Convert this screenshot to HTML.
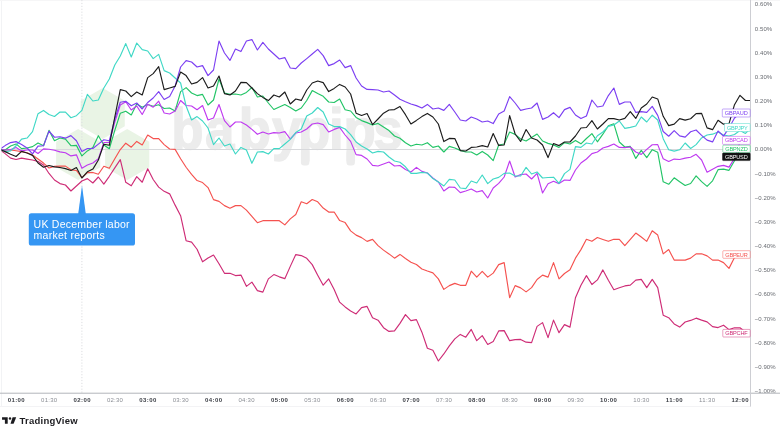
<!DOCTYPE html>
<html lang="en"><head><meta charset="utf-8"><title>GBP pairs overlay chart</title>
<style>html,body{margin:0;padding:0;background:#fff;}body{width:780px;height:427px;overflow:hidden;}</style>
</head><body>
<svg width="780" height="427" viewBox="0 0 780 427" style="display:block" font-family="'Liberation Sans', sans-serif">
<defs><clipPath id="yclip"><rect x="751" y="0" width="29" height="392.7"/></clipPath><clipPath id="plot"><rect x="1.5" y="0" width="749" height="393"/></clipPath></defs>
<rect width="780" height="427" fill="#ffffff"/>
<rect x="1" y="0" width="1" height="406" fill="#f2f3f5"/>
<rect x="0" y="0" width="780" height="1" fill="#f6f6f7"/>
<rect x="0" y="406" width="751" height="1" fill="#f3f3f5"/>
<g>
<polygon points="102.70,88.00 124.78,100.75 124.78,126.25 102.70,139.00 80.62,126.25 80.62,100.75" fill="#e9f4e5"/>
<polygon points="78.20,129.00 100.28,141.75 100.28,167.25 78.20,180.00 56.12,167.25 56.12,141.75" fill="#e9f4e5"/>
<polygon points="127.20,129.00 149.28,141.75 149.28,167.25 127.20,180.00 105.12,167.25 105.12,141.75" fill="#e9f4e5"/>
<text transform="translate(0,149.3) scale(0.91,1)" x="188.09 225.25 262.49 298.99 327.43 361.67 377.54 410.26" y="0" font-size="58" font-weight="bold" fill="#ececec" stroke="#ececec" stroke-width="1.4" stroke-linejoin="round">babypips</text>
<rect x="300.91" y="150" width="8.4" height="15.6" rx="3" fill="#ececec"/>
<rect x="346.50" y="150" width="8.4" height="15.6" rx="3" fill="#ececec"/>
</g>
<line x1="2" y1="149.5" x2="750" y2="149.5" stroke="#d8d9dc" stroke-width="1"/>
<line x1="81.9" y1="0" x2="81.9" y2="393" stroke="#dcdde0" stroke-width="1" stroke-dasharray="1.2 1.7"/>
<g clip-path="url(#plot)">
<polyline points="-0.36,149.45 5.12,153.63 10.61,158.17 16.09,159.53 21.58,158.17 27.06,159.08 32.54,160.00 38.03,161.53 43.51,165.00 49.00,173.47 54.48,180.00 59.96,183.60 65.45,185.00 70.93,191.00 76.42,186.00 81.90,181.00 87.38,178.60 92.87,183.00 98.35,177.00 103.84,184.12 109.32,176.31 114.80,167.82 120.29,159.64 125.77,182.34 131.26,185.79 136.74,176.64 142.22,182.24 147.71,168.80 153.19,179.52 158.68,187.09 164.16,191.35 169.64,193.86 175.13,205.14 180.61,215.66 186.10,240.73 191.58,242.12 197.06,249.26 202.55,261.80 208.03,258.05 213.52,255.04 219.00,263.81 224.48,273.33 229.97,273.33 235.45,275.59 240.94,275.09 246.42,286.37 251.90,282.11 257.39,290.63 262.87,292.13 268.36,278.85 273.84,274.59 279.32,276.84 284.81,278.66 290.29,266.38 295.78,254.60 301.26,255.60 306.74,258.36 312.23,264.62 317.71,275.15 323.20,285.18 328.68,278.91 334.16,289.44 339.65,302.16 345.13,306.92 350.62,310.93 356.10,313.93 361.58,307.67 367.07,306.42 372.55,317.69 378.04,320.16 383.52,327.68 389.00,331.40 394.49,330.90 399.97,323.38 405.46,314.61 410.94,320.63 416.42,319.62 421.91,332.16 427.39,348.20 432.88,350.20 438.36,360.98 443.84,353.96 449.33,345.94 454.81,338.92 460.30,334.41 465.78,337.17 471.26,329.40 476.75,340.68 482.23,335.66 487.72,344.44 493.20,341.43 498.68,330.90 504.17,330.65 509.65,340.68 515.14,339.67 520.62,339.42 526.10,342.18 531.59,342.68 537.07,326.39 542.56,322.63 548.04,337.67 553.52,320.13 559.01,332.66 564.49,324.64 569.98,327.14 575.46,297.74 580.94,285.21 586.43,275.66 591.91,284.56 597.40,279.92 602.88,269.90 608.36,280.18 613.85,289.70 619.33,287.69 624.82,285.94 630.30,285.19 635.78,280.18 641.27,279.42 646.75,287.69 652.24,279.40 657.72,287.67 663.20,315.15 668.69,317.66 674.17,323.92 679.66,327.09 685.14,322.04 690.62,320.41 696.11,318.16 701.59,320.16 707.08,321.92 712.56,326.68 718.04,327.59 723.53,325.18 729.01,329.60 734.50,327.80 739.98,327.80 745.46,332.00 750.95,333.20" fill="none" stroke="#CE2C76" stroke-width="1.15" stroke-linejoin="round" stroke-linecap="round"/>
<polyline points="-0.36,149.45 5.12,150.00 10.61,150.00 16.09,150.72 21.58,151.63 27.06,152.80 32.54,155.00 38.03,159.08 43.51,163.08 49.00,168.00 54.48,166.37 59.96,166.12 65.45,166.12 70.93,169.83 76.42,170.47 81.90,177.55 87.38,172.55 92.87,172.55 98.35,174.28 103.84,166.24 109.32,168.31 114.80,158.78 120.29,149.53 125.77,143.18 131.26,147.20 136.74,141.40 142.22,145.00 147.71,135.00 153.19,138.60 158.68,138.60 164.16,144.60 169.64,149.00 175.13,149.40 180.61,158.69 186.10,167.27 191.58,174.28 197.06,180.58 202.55,182.58 208.03,187.59 213.52,199.62 219.00,201.38 224.48,205.64 229.97,208.15 235.45,205.64 240.94,205.64 246.42,210.15 251.90,216.42 257.39,222.68 262.87,220.68 268.36,220.68 273.84,220.68 279.32,220.68 284.81,224.89 290.29,218.87 295.78,214.49 301.26,201.78 306.74,203.78 312.23,199.52 317.71,201.78 323.20,208.05 328.68,212.06 334.16,212.06 339.65,220.58 345.13,222.58 350.62,230.85 356.10,235.11 361.58,237.62 367.07,241.38 372.55,239.37 378.04,245.64 383.52,250.15 389.00,253.91 394.49,258.17 399.97,254.41 405.46,258.42 410.94,262.18 416.42,264.44 421.91,268.95 427.39,270.98 432.88,272.86 438.36,278.87 443.84,289.40 449.33,285.64 454.81,283.38 460.30,285.33 465.78,285.33 471.26,271.21 476.75,277.14 482.23,271.34 487.72,277.11 493.20,273.10 498.68,264.66 504.17,262.66 509.65,297.66 515.14,285.63 520.62,287.88 526.10,291.89 531.59,287.63 537.07,279.49 542.56,275.10 548.04,277.11 553.52,262.66 559.01,278.86 564.49,273.47 569.98,269.84 575.46,258.15 580.94,249.62 586.43,239.32 591.91,241.33 597.40,237.57 602.88,239.45 608.36,241.33 613.85,239.32 619.33,239.32 624.82,245.59 630.30,239.32 635.78,233.06 641.27,237.07 646.75,241.33 652.24,230.78 657.72,235.04 663.20,253.83 668.69,249.57 674.17,260.10 679.66,260.10 685.14,260.10 690.62,258.10 696.11,253.83 701.59,253.83 707.08,255.84 712.56,260.10 718.04,260.10 723.53,262.61 729.01,268.37 734.50,257.59 739.98,254.50 745.46,254.50 750.95,254.50" fill="none" stroke="#F5524F" stroke-width="1.15" stroke-linejoin="round" stroke-linecap="round"/>
<polyline points="-0.36,149.45 5.12,150.00 10.61,145.92 16.09,143.92 21.58,148.63 27.06,148.00 32.54,146.63 38.03,143.00 43.51,145.72 49.00,130.37 54.48,140.72 59.96,138.00 65.45,139.08 70.93,145.72 76.42,145.37 81.90,155.92 87.38,150.92 92.87,147.55 98.35,135.72 103.84,145.00 109.32,148.76 114.80,130.33 120.29,113.24 125.77,111.20 131.26,115.00 136.74,104.00 142.22,107.20 147.71,104.50 153.19,106.30 158.68,104.80 164.16,108.50 169.64,108.00 175.13,111.00 180.61,91.60 186.10,87.60 191.58,93.00 197.06,95.60 202.55,94.40 208.03,105.00 213.52,100.00 219.00,79.00 224.48,93.00 229.97,94.40 235.45,94.00 240.94,95.00 246.42,92.40 251.90,87.50 257.39,97.00 262.87,96.00 268.36,103.00 273.84,109.50 279.32,107.00 284.81,104.50 290.29,107.50 295.78,111.00 301.26,108.00 306.74,100.50 312.23,90.60 317.71,93.60 323.20,96.30 328.68,102.00 334.16,102.50 339.65,99.00 345.13,109.70 350.62,111.00 356.10,117.40 361.58,120.60 367.07,122.60 372.55,125.00 378.04,123.40 383.52,127.00 389.00,130.60 394.49,136.00 399.97,138.20 405.46,142.80 410.94,146.00 416.42,144.20 421.91,145.00 427.39,142.70 432.88,147.40 438.36,146.00 443.84,152.00 449.33,146.40 454.81,148.00 460.30,150.40 465.78,152.00 471.26,152.00 476.75,155.00 482.23,151.40 487.72,155.00 493.20,160.60 498.68,145.00 504.17,144.00 509.65,132.00 515.14,134.40 520.62,139.00 526.10,141.00 531.59,137.60 537.07,134.00 542.56,141.00 548.04,143.35 553.52,144.87 559.01,147.40 564.49,142.60 569.98,144.00 575.46,140.40 580.94,143.80 586.43,138.50 591.91,133.60 597.40,141.80 602.88,134.20 608.36,125.80 613.85,123.80 619.33,142.00 624.82,147.00 630.30,146.40 635.78,158.40 641.27,150.40 646.75,157.60 652.24,149.70 657.72,152.25 663.20,181.83 668.69,184.28 674.17,177.80 679.66,181.83 685.14,185.47 690.62,183.47 696.11,175.88 701.59,181.67 707.08,186.33 712.56,180.83 718.04,169.67 723.53,169.17 729.01,170.33 734.50,160.83 739.98,149.00 745.46,148.80 750.95,148.80" fill="none" stroke="#22C466" stroke-width="1.15" stroke-linejoin="round" stroke-linecap="round"/>
<polyline points="-0.36,149.45 5.12,150.00 10.61,149.63 16.09,147.55 21.58,150.92 27.06,150.00 32.54,150.00 38.03,153.47 43.51,148.83 49.00,149.28 54.48,150.20 59.96,151.83 65.45,152.75 70.93,155.92 76.42,154.83 81.90,168.20 87.38,165.00 92.87,163.00 98.35,158.83 103.84,142.51 109.32,142.50 114.80,122.11 120.29,105.00 125.77,101.80 131.26,110.00 136.74,106.00 142.22,114.50 147.71,104.30 153.19,107.20 158.68,101.20 164.16,113.00 169.64,114.00 175.13,111.00 180.61,100.50 186.10,105.50 191.58,106.00 197.06,109.70 202.55,105.50 208.03,120.00 213.52,118.00 219.00,104.50 224.48,120.60 229.97,127.00 235.45,122.00 240.94,122.00 246.42,125.00 251.90,129.40 257.39,134.30 262.87,132.00 268.36,134.00 273.84,132.60 279.32,133.00 284.81,131.60 290.29,139.00 295.78,133.00 301.26,132.00 306.74,129.00 312.23,124.00 317.71,123.00 323.20,124.60 328.68,132.00 334.16,129.40 339.65,127.40 345.13,135.00 350.62,141.40 356.10,154.60 361.58,155.40 367.07,159.00 372.55,165.40 378.04,166.00 383.52,164.00 389.00,162.00 394.49,166.00 399.97,165.50 405.46,169.50 410.94,172.00 416.42,167.40 421.91,171.40 427.39,173.00 432.88,178.00 438.36,182.00 443.84,191.00 449.33,187.00 454.81,187.40 460.30,192.60 465.78,191.00 471.26,189.00 476.75,192.00 482.23,190.60 487.72,198.00 493.20,188.00 498.68,183.40 504.17,177.00 509.65,161.00 515.14,177.00 520.62,174.60 526.10,174.00 531.59,179.00 537.07,173.40 542.56,193.00 548.04,183.70 553.52,181.30 559.01,183.60 564.49,180.00 569.98,180.40 575.46,170.00 580.94,163.00 586.43,159.00 591.91,153.60 597.40,152.00 602.88,148.00 608.36,146.40 613.85,144.00 619.33,147.40 624.82,147.60 630.30,147.00 635.78,152.00 641.27,154.40 646.75,149.40 652.24,144.80 657.72,144.63 663.20,158.72 668.69,161.47 674.17,159.08 679.66,159.53 685.14,158.17 690.62,157.25 696.11,154.33 701.59,160.00 707.08,172.17 712.56,169.17 718.04,166.33 723.53,165.33 729.01,167.17 734.50,158.33 739.98,142.00 745.46,140.40 750.95,140.40" fill="none" stroke="#BF3AF0" stroke-width="1.15" stroke-linejoin="round" stroke-linecap="round"/>
<polyline points="-0.36,149.45 5.12,151.63 10.61,150.92 16.09,145.72 21.58,139.08 27.06,138.00 32.54,131.63 38.03,113.67 43.51,110.45 49.00,114.58 54.48,116.50 59.96,112.05 65.45,112.05 70.93,117.75 76.42,115.67 81.90,110.42 87.38,94.40 92.87,101.00 98.35,100.00 103.84,88.00 109.32,79.00 114.80,65.00 120.29,56.00 125.77,43.60 131.26,57.00 136.74,43.00 142.22,49.60 147.71,51.00 153.19,58.60 158.68,54.40 164.16,70.60 169.64,73.00 175.13,78.00 180.61,83.00 186.10,106.00 191.58,120.00 197.06,116.60 202.55,121.00 208.03,128.00 213.52,144.60 219.00,138.00 224.48,146.00 229.97,144.00 235.45,154.00 240.94,147.40 246.42,150.00 251.90,163.30 257.39,152.00 262.87,151.60 268.36,154.00 273.84,148.60 279.32,148.60 284.81,144.00 290.29,139.40 295.78,132.60 301.26,129.00 306.74,116.00 312.23,113.00 317.71,107.50 323.20,112.00 328.68,124.00 334.16,126.60 339.65,126.60 345.13,129.00 350.62,134.60 356.10,142.00 361.58,146.00 367.07,149.00 372.55,153.00 378.04,151.40 383.52,152.00 389.00,157.00 394.49,161.00 399.97,162.30 405.46,166.80 410.94,173.40 416.42,173.40 421.91,172.40 427.39,173.00 432.88,178.60 438.36,182.00 443.84,186.00 449.33,179.40 454.81,180.00 460.30,188.00 465.78,188.60 471.26,181.00 476.75,183.00 482.23,175.00 487.72,183.60 493.20,179.00 498.68,177.40 504.17,173.40 509.65,173.00 515.14,176.00 520.62,176.00 526.10,167.40 531.59,174.00 537.07,172.00 542.56,178.00 548.04,177.50 553.52,177.20 559.01,183.40 564.49,173.60 569.98,169.40 575.46,146.60 580.94,147.40 586.43,143.00 591.91,144.00 597.40,135.80 602.88,132.00 608.36,126.40 613.85,125.00 619.33,121.00 624.82,128.40 630.30,127.40 635.78,126.00 641.27,117.00 646.75,122.00 652.24,115.20 657.72,120.00 663.20,138.67 668.69,149.80 674.17,151.17 679.66,149.80 685.14,143.00 690.62,148.47 696.11,144.63 701.59,137.92 707.08,135.00 712.56,134.17 718.04,132.00 723.53,135.00 729.01,136.00 734.50,134.50 739.98,130.50 745.46,133.40 750.95,128.00" fill="none" stroke="#40D8C6" stroke-width="1.15" stroke-linejoin="round" stroke-linecap="round"/>
<polyline points="-0.36,149.45 5.12,145.60 10.61,142.60 16.09,141.63 21.58,144.40 27.06,148.00 32.54,153.88 38.03,146.17 43.51,145.72 49.00,131.17 54.48,137.25 59.96,136.80 65.45,138.17 70.93,135.62 76.42,140.72 81.90,151.53 87.38,148.53 92.87,148.53 98.35,144.08 103.84,139.76 109.32,140.77 114.80,119.00 120.29,102.30 125.77,101.20 131.26,105.80 136.74,103.00 142.22,109.00 147.71,102.50 153.19,98.00 158.68,91.60 164.16,99.50 169.64,96.60 175.13,86.00 180.61,67.00 186.10,60.60 191.58,62.00 197.06,67.00 202.55,65.60 208.03,75.60 213.52,70.00 219.00,41.00 224.48,53.00 229.97,60.40 235.45,49.00 240.94,51.60 246.42,41.00 251.90,39.60 257.39,50.00 262.87,42.40 268.36,49.00 273.84,54.00 279.32,59.00 284.81,57.60 290.29,68.00 295.78,68.60 301.26,63.00 306.74,58.60 312.23,54.00 317.71,49.40 323.20,55.60 328.68,65.60 334.16,63.60 339.65,60.00 345.13,67.60 350.62,65.60 356.10,78.00 361.58,86.00 367.07,89.40 372.55,89.60 378.04,90.00 383.52,92.00 389.00,91.00 394.49,95.00 399.97,99.20 405.46,101.80 410.94,104.00 416.42,105.60 421.91,108.00 427.39,104.40 432.88,109.00 438.36,108.00 443.84,110.40 449.33,104.40 454.81,112.00 460.30,120.00 465.78,121.00 471.26,117.00 476.75,119.00 482.23,122.00 487.72,121.00 493.20,123.60 498.68,114.00 504.17,111.00 509.65,96.60 515.14,103.00 520.62,110.40 526.10,109.00 531.59,108.00 537.07,103.00 542.56,119.40 548.04,117.00 553.52,112.70 559.01,117.60 564.49,109.60 569.98,107.40 575.46,115.00 580.94,118.60 586.43,116.00 591.91,100.00 597.40,107.00 602.88,106.00 608.36,95.60 613.85,88.00 619.33,104.40 624.82,102.00 630.30,102.00 635.78,112.40 641.27,111.60 646.75,112.40 652.24,106.37 657.72,115.33 663.20,131.50 668.69,136.25 674.17,130.62 679.66,135.83 685.14,137.08 690.62,131.72 696.11,130.00 701.59,135.33 707.08,140.17 712.56,141.92 718.04,131.00 723.53,136.08 729.01,127.92 734.50,118.00 739.98,113.00 745.46,113.00 750.95,113.00" fill="none" stroke="#7C3FF2" stroke-width="1.15" stroke-linejoin="round" stroke-linecap="round"/>
<polyline points="-0.36,149.45 5.12,151.63 10.61,154.28 16.09,156.47 21.58,151.37 27.06,153.00 32.54,155.37 38.03,163.00 43.51,167.20 49.00,165.47 54.48,166.83 59.96,167.55 65.45,168.63 70.93,170.47 76.42,167.55 81.90,178.00 87.38,171.83 92.87,169.08 98.35,160.00 103.84,144.19 109.32,145.31 114.80,117.00 120.29,89.60 125.77,91.00 131.26,96.60 136.74,92.00 142.22,95.00 147.71,77.60 153.19,73.60 158.68,66.60 164.16,89.60 169.64,88.00 175.13,86.40 180.61,72.00 186.10,75.60 191.58,84.00 197.06,82.40 202.55,77.60 208.03,88.00 213.52,86.00 219.00,76.00 224.48,93.60 229.97,95.00 235.45,91.00 240.94,82.40 246.42,82.60 251.90,88.00 257.39,93.60 262.87,97.40 268.36,100.60 273.84,95.00 279.32,97.00 284.81,92.00 290.29,104.00 295.78,99.00 301.26,100.40 306.74,90.00 312.23,83.00 317.71,81.00 323.20,82.60 328.68,91.60 334.16,88.40 339.65,84.40 345.13,87.00 350.62,94.00 356.10,113.20 361.58,115.50 367.07,113.50 372.55,124.60 378.04,119.00 383.52,113.20 389.00,110.00 394.49,109.60 399.97,106.47 405.46,114.67 410.94,124.00 416.42,120.40 421.91,116.60 427.39,113.40 432.88,117.00 438.36,124.00 443.84,141.60 449.33,138.40 454.81,138.60 460.30,150.60 465.78,151.00 471.26,147.40 476.75,147.00 482.23,145.60 487.72,147.00 493.20,133.50 498.68,145.40 504.17,145.00 509.65,115.60 515.14,134.00 520.62,141.50 526.10,129.50 531.59,138.00 537.07,140.00 542.56,145.00 548.04,157.60 553.52,143.47 559.01,145.60 564.49,142.00 569.98,142.00 575.46,136.00 580.94,128.00 586.43,127.50 591.91,120.60 597.40,129.00 602.88,124.00 608.36,118.60 613.85,118.60 619.33,120.00 624.82,118.40 630.30,111.60 635.78,118.40 641.27,108.00 646.75,104.00 652.24,97.00 657.72,98.92 663.20,116.33 668.69,125.62 674.17,124.08 679.66,118.63 685.14,120.17 690.62,118.72 696.11,113.63 701.59,113.33 707.08,127.83 712.56,129.67 718.04,120.33 723.53,124.17 729.01,123.67 734.50,104.67 739.98,95.33 745.46,100.50 750.95,100.50" fill="none" stroke="#1c1c1c" stroke-width="1.15" stroke-linejoin="round" stroke-linecap="round"/>
</g>
<rect x="0" y="392.7" width="780" height="1" fill="#b3b5bb"/>
<rect x="750" y="0" width="1" height="406.5" fill="#cdced3"/>
<text x="754.8" y="393.10" font-size="6" fill="#676a70" textLength="20.8" lengthAdjust="spacing" clip-path="url(#yclip)">−1.00%</text>
<text x="754.8" y="368.93" font-size="6" fill="#676a70" textLength="20.8" lengthAdjust="spacing" clip-path="url(#yclip)">−0.90%</text>
<text x="754.8" y="344.76" font-size="6" fill="#676a70" textLength="20.8" lengthAdjust="spacing" clip-path="url(#yclip)">−0.80%</text>
<text x="754.8" y="320.59" font-size="6" fill="#676a70" textLength="20.8" lengthAdjust="spacing" clip-path="url(#yclip)">−0.70%</text>
<text x="754.8" y="296.42" font-size="6" fill="#676a70" textLength="20.8" lengthAdjust="spacing" clip-path="url(#yclip)">−0.60%</text>
<text x="754.8" y="272.25" font-size="6" fill="#676a70" textLength="20.8" lengthAdjust="spacing" clip-path="url(#yclip)">−0.50%</text>
<text x="754.8" y="248.08" font-size="6" fill="#676a70" textLength="20.8" lengthAdjust="spacing" clip-path="url(#yclip)">−0.40%</text>
<text x="754.8" y="223.91" font-size="6" fill="#676a70" textLength="20.8" lengthAdjust="spacing" clip-path="url(#yclip)">−0.30%</text>
<text x="754.8" y="199.74" font-size="6" fill="#676a70" textLength="20.8" lengthAdjust="spacing" clip-path="url(#yclip)">−0.20%</text>
<text x="754.8" y="175.57" font-size="6" fill="#676a70" textLength="20.8" lengthAdjust="spacing" clip-path="url(#yclip)">−0.10%</text>
<text x="754.8" y="151.40" font-size="6" fill="#676a70" textLength="17.4" lengthAdjust="spacing" clip-path="url(#yclip)">0.00%</text>
<text x="754.8" y="127.23" font-size="6" fill="#676a70" textLength="17.4" lengthAdjust="spacing" clip-path="url(#yclip)">0.10%</text>
<text x="754.8" y="103.06" font-size="6" fill="#676a70" textLength="17.4" lengthAdjust="spacing" clip-path="url(#yclip)">0.20%</text>
<text x="754.8" y="78.89" font-size="6" fill="#676a70" textLength="17.4" lengthAdjust="spacing" clip-path="url(#yclip)">0.30%</text>
<text x="754.8" y="54.72" font-size="6" fill="#676a70" textLength="17.4" lengthAdjust="spacing" clip-path="url(#yclip)">0.40%</text>
<text x="754.8" y="30.55" font-size="6" fill="#676a70" textLength="17.4" lengthAdjust="spacing" clip-path="url(#yclip)">0.50%</text>
<text x="754.8" y="6.38" font-size="6" fill="#676a70" textLength="17.4" lengthAdjust="spacing" clip-path="url(#yclip)">0.60%</text>
<text x="16.20" y="402.3" font-size="6" font-weight="bold" fill="#3a3d44" text-anchor="middle" textLength="17" lengthAdjust="spacing">01:00</text>
<text x="49.10" y="402.3" font-size="6" fill="#8a8d94" text-anchor="middle" textLength="16" lengthAdjust="spacing">01:30</text>
<text x="82.00" y="402.3" font-size="6" font-weight="bold" fill="#3a3d44" text-anchor="middle" textLength="17" lengthAdjust="spacing">02:00</text>
<text x="114.90" y="402.3" font-size="6" fill="#8a8d94" text-anchor="middle" textLength="16" lengthAdjust="spacing">02:30</text>
<text x="147.80" y="402.3" font-size="6" font-weight="bold" fill="#3a3d44" text-anchor="middle" textLength="17" lengthAdjust="spacing">03:00</text>
<text x="180.70" y="402.3" font-size="6" fill="#8a8d94" text-anchor="middle" textLength="16" lengthAdjust="spacing">03:30</text>
<text x="213.60" y="402.3" font-size="6" font-weight="bold" fill="#3a3d44" text-anchor="middle" textLength="17" lengthAdjust="spacing">04:00</text>
<text x="246.50" y="402.3" font-size="6" fill="#8a8d94" text-anchor="middle" textLength="16" lengthAdjust="spacing">04:30</text>
<text x="279.40" y="402.3" font-size="6" font-weight="bold" fill="#3a3d44" text-anchor="middle" textLength="17" lengthAdjust="spacing">05:00</text>
<text x="312.30" y="402.3" font-size="6" fill="#8a8d94" text-anchor="middle" textLength="16" lengthAdjust="spacing">05:30</text>
<text x="345.20" y="402.3" font-size="6" font-weight="bold" fill="#3a3d44" text-anchor="middle" textLength="17" lengthAdjust="spacing">06:00</text>
<text x="378.10" y="402.3" font-size="6" fill="#8a8d94" text-anchor="middle" textLength="16" lengthAdjust="spacing">06:30</text>
<text x="411.00" y="402.3" font-size="6" font-weight="bold" fill="#3a3d44" text-anchor="middle" textLength="17" lengthAdjust="spacing">07:00</text>
<text x="443.90" y="402.3" font-size="6" fill="#8a8d94" text-anchor="middle" textLength="16" lengthAdjust="spacing">07:30</text>
<text x="476.80" y="402.3" font-size="6" font-weight="bold" fill="#3a3d44" text-anchor="middle" textLength="17" lengthAdjust="spacing">08:00</text>
<text x="509.70" y="402.3" font-size="6" fill="#8a8d94" text-anchor="middle" textLength="16" lengthAdjust="spacing">08:30</text>
<text x="542.60" y="402.3" font-size="6" font-weight="bold" fill="#3a3d44" text-anchor="middle" textLength="17" lengthAdjust="spacing">09:00</text>
<text x="575.50" y="402.3" font-size="6" fill="#8a8d94" text-anchor="middle" textLength="16" lengthAdjust="spacing">09:30</text>
<text x="608.40" y="402.3" font-size="6" font-weight="bold" fill="#3a3d44" text-anchor="middle" textLength="17" lengthAdjust="spacing">10:00</text>
<text x="641.30" y="402.3" font-size="6" fill="#8a8d94" text-anchor="middle" textLength="16" lengthAdjust="spacing">10:30</text>
<text x="674.20" y="402.3" font-size="6" font-weight="bold" fill="#3a3d44" text-anchor="middle" textLength="17" lengthAdjust="spacing">11:00</text>
<text x="707.10" y="402.3" font-size="6" fill="#8a8d94" text-anchor="middle" textLength="16" lengthAdjust="spacing">11:30</text>
<text x="740.00" y="402.3" font-size="6" font-weight="bold" fill="#3a3d44" text-anchor="middle" textLength="17" lengthAdjust="spacing">12:00</text>
<rect x="722.3" y="109.00" width="27.90" height="8.0" rx="0.8" fill="#ffffff" stroke="#7C3FF2" stroke-width="0.7" stroke-opacity="0.65"/><text x="736.25" y="115.00" font-size="5.6" fill="#7C3FF2" text-anchor="middle" textLength="22.9" lengthAdjust="spacing">GBPAUD</text>
<rect x="724.5" y="123.50" width="25.70" height="8.0" rx="0.8" fill="#ffffff" stroke="#40D8C6" stroke-width="0.7" stroke-opacity="0.65"/><text x="737.35" y="129.50" font-size="5.6" fill="#40D8C6" text-anchor="middle" textLength="20.7" lengthAdjust="spacing">GBPJPY</text>
<rect x="722.5" y="136.40" width="27.70" height="8.0" rx="0.8" fill="#ffffff" stroke="#BF3AF0" stroke-width="0.7" stroke-opacity="0.65"/><text x="736.35" y="142.40" font-size="5.6" fill="#BF3AF0" text-anchor="middle" textLength="22.7" lengthAdjust="spacing">GBPCAD</text>
<rect x="722.8" y="145.20" width="27.40" height="7.2" rx="0.8" fill="#ffffff" stroke="#22C466" stroke-width="0.7" stroke-opacity="0.65"/><text x="736.50" y="150.80" font-size="5.6" fill="#22C466" text-anchor="middle" textLength="22.4" lengthAdjust="spacing">GBPNZD</text>
<rect x="722.5" y="153.00" width="27.70" height="7.6" rx="0.8" fill="#111" stroke="#111" stroke-width="0.7" stroke-opacity="0.65"/><text x="736.35" y="158.80" font-size="5.6" fill="#ffffff" text-anchor="middle" textLength="22.7" lengthAdjust="spacing">GBPUSD</text>
<rect x="722.8" y="250.70" width="27.40" height="7.6" rx="0.8" fill="#ffffff" stroke="#F5524F" stroke-width="0.7" stroke-opacity="0.65"/><text x="736.50" y="256.50" font-size="5.6" fill="#F5524F" text-anchor="middle" textLength="22.4" lengthAdjust="spacing">GBPEUR</text>
<rect x="722.8" y="329.40" width="27.40" height="7.6" rx="0.8" fill="#ffffff" stroke="#CE2C76" stroke-width="0.7" stroke-opacity="0.65"/><text x="736.50" y="335.20" font-size="5.6" fill="#CE2C76" text-anchor="middle" textLength="22.4" lengthAdjust="spacing">GBPCHF</text>
<path d="M82 185.5 L85.8 214 L78.2 214 Z" fill="#3596F3"/>
<rect x="28.8" y="213.3" width="106.2" height="32.2" rx="2.6" fill="#3596F3"/>
<text font-size="10.5" fill="#ffffff"><tspan x="33.6" y="227.5" textLength="96" lengthAdjust="spacing">UK December labor</tspan><tspan x="33.6" y="238.7" textLength="71.2" lengthAdjust="spacing">market reports</tspan></text>
<g fill="#1b1b1f">
<path d="M2.05 417.2 H7.7 V423.8 H4.9 V419.7 H2.05 Z"/>
<circle cx="10" cy="418.45" r="1.2"/>
<path d="M12.6 417.2 H16.2 L13.6 423.8 H10.5 Z"/>
<text x="19.6" y="423.8" font-size="9.5" font-weight="bold" textLength="58" lengthAdjust="spacing">TradingView</text>
</g>
</svg>
</body></html>
